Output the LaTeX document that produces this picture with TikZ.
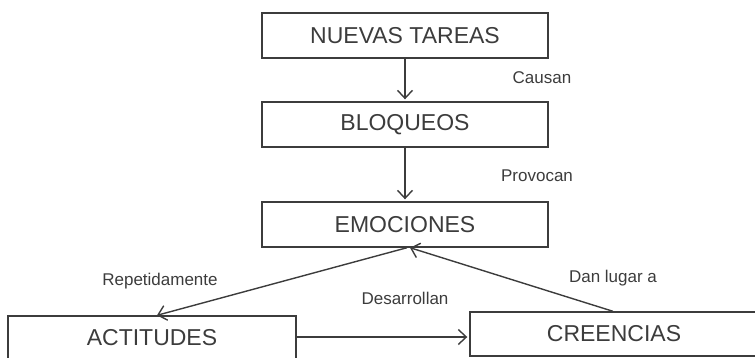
\documentclass[tikz,border=0pt]{standalone}
\usepackage{fontspec}
\setmainfont{Liberation Sans}
\usetikzlibrary{arrows.meta}
\definecolor{ink}{HTML}{3C3C3C}
\begin{document}
\begin{tikzpicture}[x=1pt,y=-1pt,
  box/.style={draw=ink, line width=1.4pt, rectangle, inner sep=0pt, text=ink,
    font=\fontsize{23}{25}\selectfont},
  wide/.style={minimum width=286pt, minimum height=45pt},
  low/.style={minimum width=288pt, minimum height=44pt},
  lbl/.style={text=ink, font=\fontsize{17}{19}\selectfont, inner sep=0pt, anchor=base},
  conn/.style={draw=ink, line width=1.4pt, shorten >=2pt,
    -{Straight Barb[length=8pt,width=15pt,line width=1.4pt]}}]
\useasboundingbox (0,0) rectangle (755,357);
\node[box, wide] (nt) at (405,35.5) {NUEVAS TAREAS};
\node[box, wide] (bl) at (405,124.5) {BLOQUEOS};
\node[box, wide] (em) at (405,224.5) {EMOCIONES};
\node[box, low] (ac) at (152,338) {ACTITUDES};
\node[box, low] (cr) at (614,334) {CREENCIAS};
\coordinate (ae) at ([yshift=1pt]ac.east);
\draw[conn] (nt.south) -- (bl.north);
\draw[conn] (bl.south) -- (em.north);
\draw[conn, shorten >=0pt] ([xshift=2pt]em.south) -- ([xshift=5pt]ac.north);
\draw[conn, shorten >=0pt] ([xshift=-1pt]cr.north) -- ([xshift=5pt]em.south);
\draw[conn] (ae) -- (cr.west |- ae);
\node[lbl] (l1) at (542,83) {Causan};
\node[lbl] (l2) at (537,181) {Provocan};
\node[lbl] (l3) at (160,285) {Repetidamente};
\node[lbl] (l4) at (405,304) {Desarrollan};
\node[lbl] (l5) at (613,282) {Dan lugar a};
\end{tikzpicture}
\end{document}
